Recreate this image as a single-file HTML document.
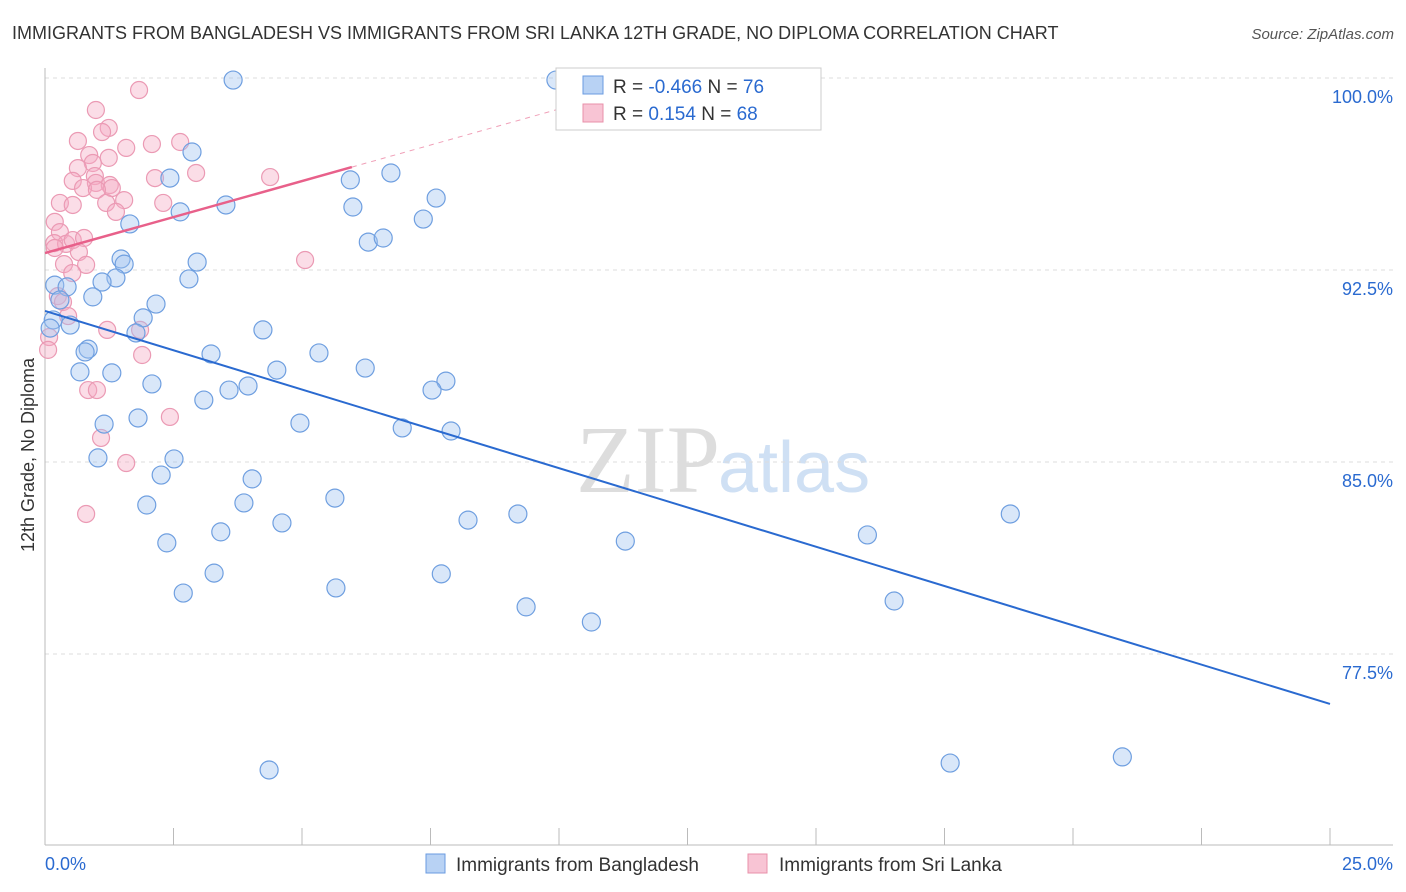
<!DOCTYPE html>
<html><head><meta charset="utf-8"><style>
body{margin:0;background:#fff;font-family:"Liberation Sans",sans-serif}
svg{display:block}
</style></head><body>
<svg id="chart" width="1406" height="892">
<text x="12" y="39" font-size="18" fill="#333">IMMIGRANTS FROM BANGLADESH VS IMMIGRANTS FROM SRI LANKA 12TH GRADE, NO DIPLOMA CORRELATION CHART</text>
<text x="1394" y="39" font-size="15" fill="#555" font-style="italic" text-anchor="end">Source: ZipAtlas.com</text>
<text x="720" y="492" font-size="96" fill="#ddd" text-anchor="end" font-family="Liberation Serif">ZIP</text>
<text x="718" y="492" font-size="72" fill="#cfe0f4">atlas</text>
<text transform="translate(34,455) rotate(-90)" font-size="18" fill="#333" text-anchor="middle">12th Grade, No Diploma</text>
<g id="grid"></g><g id="axes"></g><g id="marks"></g><g id="lines"></g>
<g>
<rect x="556" y="68" width="265" height="62" fill="#fff" stroke="#ccc"/>
<rect x="583" y="76" width="20" height="18" fill="#b8d2f4" stroke="#6a9be0"/>
<rect x="583" y="104" width="20" height="18" fill="#f8c4d4" stroke="#e890aa"/>
<text x="613" y="93" font-size="19" fill="#333">R = <tspan fill="#2a6ad0">-0.466</tspan>   N = <tspan fill="#2a6ad0">76</tspan></text>
<text x="613" y="120" font-size="19" fill="#333">R =   <tspan fill="#2a6ad0">0.154</tspan>   N = <tspan fill="#2a6ad0">68</tspan></text>
</g>
<g>
<rect x="426" y="854" width="19" height="19" fill="#b8d2f4" stroke="#6a9be0"/>
<text x="456" y="871" font-size="19" fill="#333">Immigrants from Bangladesh</text>
<rect x="748" y="854" width="19" height="19" fill="#f8c4d4" stroke="#e890aa"/>
<text x="779" y="871" font-size="19" fill="#333">Immigrants from Sri Lanka</text>
</g>
</svg>
<script>
const blueX=[3.66,9.94,2.86,2.43,5.94,6.73,3.52,2.63,5.99,7.61,7.36,1.65,6.29,6.58,1.48,1.54,2.96,1.38,1.11,2.80,0.19,0.43,0.93,0.29,2.16,1.91,0.16,0.49,4.24,1.77,0.10,0.84,0.78,3.23,5.33,0.68,1.30,4.51,6.23,2.08,3.58,3.95,7.80,7.53,3.09,1.81,4.96,1.15,6.95,7.90,1.03,2.51,2.26,4.03,3.87,5.64,1.98,4.61,8.23,9.20,3.42,2.37,11.29,16.0,18.78,3.29,7.71,5.66,2.69,9.36,16.52,10.63,4.36,17.61,20.96];
const blueY=[99.92,99.92,97.11,96.09,96.02,96.29,95.04,94.77,94.96,95.31,94.49,94.30,93.59,93.75,92.93,92.73,92.81,92.19,92.03,92.15,91.91,91.84,91.45,91.33,91.17,90.63,90.55,90.35,90.16,90.04,90.23,89.41,89.30,89.22,89.26,88.52,88.48,88.59,88.67,88.05,87.81,87.97,88.16,87.81,87.42,86.72,86.52,86.48,86.33,86.21,85.16,85.12,84.49,84.34,83.40,83.59,83.32,82.62,82.73,82.97,82.27,81.84,81.91,82.15,82.97,80.66,80.63,80.08,79.88,79.34,79.57,78.75,72.97,73.24,73.48];
const pinkX=[1.83,0.99,1.24,1.11,0.64,2.08,2.63,1.58,0.86,1.24,0.93,0.64,2.94,0.97,2.14,4.38,0.54,0.99,0.74,1.26,1.30,1.01,1.54,2.30,0.29,0.54,1.19,1.38,0.19,0.29,0.18,0.41,0.54,0.76,0.19,0.66,5.06,0.37,0.80,0.53,0.25,0.35,0.45,1.21,1.85,0.08,0.06,1.89,0.84,1.01,2.43,1.09,1.58,0.80];
const pinkY=[99.53,98.75,98.05,97.89,97.54,97.42,97.50,97.27,96.99,96.88,96.68,96.48,96.29,96.17,96.09,96.13,95.98,95.90,95.70,95.82,95.70,95.63,95.23,95.12,95.12,95.04,95.12,94.77,94.38,93.98,93.55,93.52,93.67,93.75,93.36,93.20,92.89,92.73,92.70,92.38,91.48,91.25,90.70,90.16,90.16,89.88,89.38,89.18,87.81,87.81,86.76,85.94,84.96,82.97];
const yTicks=[100,92.5,85,77.5];
const yTickLabels=["100.0%","92.5%","85.0%","77.5%"];
const xTickLabels=["0.0%","25.0%"];
const blueTrend=[90.9,75.55];   // y at x=0 and x=25
const pinkTrend=[93.16,96.52,5.97]; // y at x=0, y at end, end x
const NS="http://www.w3.org/2000/svg";
const sx=v=>45+v/25*1285, sy=v=>78+(100-v)*25.6;
function mk(t,a,p){const e=document.createElementNS(NS,t);for(const k in a)e.setAttribute(k,a[k]);p.appendChild(e);return e;}
const grid=document.getElementById('grid'),axes=document.getElementById('axes'),marks=document.getElementById('marks'),lines=document.getElementById('lines');
yTicks.forEach((t,i)=>{
 const l=mk('line',{x1:45,x2:1393,y1:sy(t),y2:sy(t),stroke:'#ddd','stroke-dasharray':'4,4'},grid);
 
 
 const tx=mk('text',{x:1393,y:sy(t)+25,'font-size':18,fill:'#2a6ad0','text-anchor':'end'},axes);
 tx.textContent=yTickLabels[i];
 
 
});
mk('line',{x1:45,x2:45,y1:68,y2:845,stroke:'#bbb'},axes);
mk('line',{x1:45,x2:1393,y1:845,y2:845,stroke:'#bbb'},axes);
for(let i=0;i<=10;i++){const t=mk('line',{x1:sx(i*2.5),x2:sx(i*2.5),y1:828,y2:845,stroke:'#bbb'},axes);
 
 }
const xl0=mk('text',{x:45,y:870,'font-size':18,fill:'#2a6ad0'},axes);xl0.textContent=xTickLabels[0];


const xl1=mk('text',{x:1393,y:870,'font-size':18,fill:'#2a6ad0','text-anchor':'end'},axes);xl1.textContent=xTickLabels[1];


pinkX.forEach((x,i)=>{const c=mk('circle',{cx:sx(x),cy:sy(pinkY[i]),r:8.5,fill:'rgba(244,170,196,0.4)',stroke:'#eb9ab4','stroke-width':1.2},marks);
 
 });
blueX.forEach((x,i)=>{const c=mk('circle',{cx:sx(x),cy:sy(blueY[i]),r:9,fill:'rgba(160,196,240,0.4)',stroke:'#6f9fe0','stroke-width':1.2},marks);
 
 });
const bl=mk('line',{x1:sx(0),y1:sy(blueTrend[0]),x2:sx(25),y2:sy(blueTrend[1]),stroke:'#2a6ad0','stroke-width':2},lines);


const slope=(pinkTrend[1]-pinkTrend[0])/pinkTrend[2];
const pd=mk('line',{x1:sx(pinkTrend[2]),y1:sy(pinkTrend[1]),x2:sx(10.5),y2:sy(pinkTrend[0]+slope*10.5),stroke:'#f0a0b8','stroke-width':1,'stroke-dasharray':'5,5'},lines);


const pl=mk('line',{x1:sx(0),y1:sy(pinkTrend[0]),x2:sx(pinkTrend[2]),y2:sy(pinkTrend[1]),stroke:'#e8608a','stroke-width':2.5},lines);


</script>
</body></html>
